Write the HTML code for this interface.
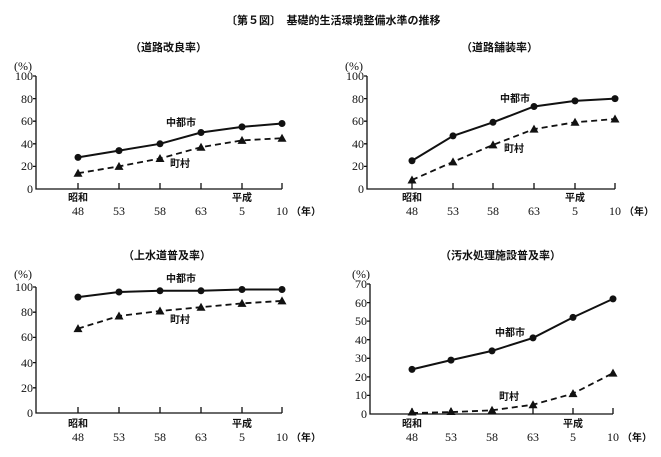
<!DOCTYPE html>
<html><head><meta charset="utf-8"><style>
html,body{margin:0;padding:0;background:#fff}
svg{display:block}
text{font-family:"Liberation Serif","Noto Serif CJK SC","Noto Sans CJK JP",serif;fill:#111}
.j{font-family:"Liberation Sans","Noto Sans CJK JP",sans-serif;font-weight:bold}
.n{font-size:12px}
</style></head><body>
<svg width="661" height="457" viewBox="0 0 661 457" xmlns="http://www.w3.org/2000/svg">
<defs>
<path id="tri" d="M0,-4.5 L4.5,3.5 L-4.5,3.5Z" fill="#111"/>
</defs>
<text x="226" y="24" class="j" font-size="11">〔第５図〕　基礎的生活環境整備水準の推移</text>

<!-- Chart A -->
<g>
<text x="130" y="51" class="j" font-size="11">（道路改良率）</text>
<text x="14" y="70" class="n">(%)</text>
<g class="n" text-anchor="end">
<text x="33" y="193">0</text><text x="33" y="170">20</text><text x="33" y="148">40</text><text x="33" y="125">60</text><text x="33" y="103">80</text><text x="33" y="80">100</text>
</g>
<g stroke="#111" stroke-width="1.3" fill="none">
<path d="M36,76V189H282"/>
<path d="M33,76H36M33,98.6H36M33,121.2H36M33,143.8H36M33,166.4H36"/>
<path d="M78,183V189M119,183V189M160,183V189M201,183V189M242,183V189M282,183V189"/>
<polyline stroke-width="2" points="78,157.4 119,150.6 160,143.8 201,132.5 242,126.9 282,123.5"/>
<polyline stroke-width="1.8" stroke-dasharray="6,4" points="78,173.2 119,166.4 160,158.5 201,147.2 242,140.4 282,138.2"/>
</g>
<g fill="#111"><circle cx="78" cy="157.4" r="3.5"/><circle cx="119" cy="150.6" r="3.5"/><circle cx="160" cy="143.8" r="3.5"/><circle cx="201" cy="132.5" r="3.5"/><circle cx="242" cy="126.9" r="3.5"/><circle cx="282" cy="123.5" r="3.5"/></g>
<use href="#tri" x="78" y="173.2"/><use href="#tri" x="119" y="166.4"/><use href="#tri" x="160" y="158.5"/><use href="#tri" x="201" y="147.2"/><use href="#tri" x="242" y="140.4"/><use href="#tri" x="282" y="138.2"/>
<text x="166" y="126" class="j" font-size="10">中都市</text>
<text x="170" y="167" class="j" font-size="10">町村</text>
<g class="n" text-anchor="middle"><text x="78" y="201" class="j" font-size="10">昭和</text><text x="242" y="201" class="j" font-size="10">平成</text>
<text x="78" y="215">48</text><text x="119" y="215">53</text><text x="160" y="215">58</text><text x="201" y="215">63</text><text x="242" y="215">5</text><text x="282" y="215">10</text></g>
<text x="291" y="215" class="j" font-size="10">（年）</text>
</g>

<!-- Chart B -->
<g>
<text x="461" y="51" class="j" font-size="11">（道路舗装率）</text>
<text x="345" y="70" class="n">(%)</text>
<g class="n" text-anchor="end">
<text x="364" y="193">0</text><text x="364" y="170">20</text><text x="364" y="148">40</text><text x="364" y="125">60</text><text x="364" y="103">80</text><text x="364" y="80">100</text>
</g>
<g stroke="#111" stroke-width="1.3" fill="none">
<path d="M367,76V189H615"/>
<path d="M364,76H367M364,98.6H367M364,121.2H367M364,143.8H367M364,166.4H367"/>
<path d="M412,183V189M453,183V189M493,183V189M534,183V189M575,183V189M615,183V189"/>
<polyline stroke-width="2" points="412,160.75 453,135.9 493,122.3 534,106.5 575,100.9 615,98.6"/>
<polyline stroke-width="1.8" stroke-dasharray="6,4" points="412,180 453,161.9 493,144.9 534,129.1 575,122.3 615,119"/>
</g>
<g fill="#111"><circle cx="412" cy="160.75" r="3.5"/><circle cx="453" cy="135.9" r="3.5"/><circle cx="493" cy="122.3" r="3.5"/><circle cx="534" cy="106.5" r="3.5"/><circle cx="575" cy="100.9" r="3.5"/><circle cx="615" cy="98.6" r="3.5"/></g>
<use href="#tri" x="412" y="180"/><use href="#tri" x="453" y="161.9"/><use href="#tri" x="493" y="144.9"/><use href="#tri" x="534" y="129.1"/><use href="#tri" x="575" y="122.3"/><use href="#tri" x="615" y="119"/>
<text x="500" y="102" class="j" font-size="10">中都市</text>
<text x="504" y="152" class="j" font-size="10">町村</text>
<g class="n" text-anchor="middle"><text x="412" y="201" class="j" font-size="10">昭和</text><text x="575" y="201" class="j" font-size="10">平成</text>
<text x="412" y="215">48</text><text x="453" y="215">53</text><text x="493" y="215">58</text><text x="534" y="215">63</text><text x="575" y="215">5</text><text x="615" y="215">10</text></g>
<text x="624" y="215" class="j" font-size="10">（年）</text>
</g>

<!-- Chart C -->
<g>
<text x="123" y="259" class="j" font-size="11">（上水道普及率）</text>
<text x="14" y="278" class="n">(%)</text>
<g class="n" text-anchor="end">
<text x="33" y="417">0</text><text x="33" y="392">20</text><text x="33" y="367">40</text><text x="33" y="341">60</text><text x="33" y="316">80</text><text x="33" y="291">100</text>
</g>
<g stroke="#111" stroke-width="1.3" fill="none">
<path d="M36,287V413H282"/>
<path d="M33,287H36M33,312.2H36M33,337.4H36M33,362.6H36M33,387.8H36"/>
<path d="M78,407V413M119,407V413M160,407V413M201,407V413M242,407V413M282,407V413"/>
<polyline stroke-width="2" points="78,297.1 119,292 160,290.8 201,290.8 242,289.5 282,289.5"/>
<polyline stroke-width="1.8" stroke-dasharray="6,4" points="78,328.6 119,316 160,311 201,307.2 242,303.4 282,300.9"/>
</g>
<g fill="#111"><circle cx="78" cy="297.1" r="3.5"/><circle cx="119" cy="292" r="3.5"/><circle cx="160" cy="290.8" r="3.5"/><circle cx="201" cy="290.8" r="3.5"/><circle cx="242" cy="289.5" r="3.5"/><circle cx="282" cy="289.5" r="3.5"/></g>
<use href="#tri" x="78" y="328.6"/><use href="#tri" x="119" y="316"/><use href="#tri" x="160" y="311"/><use href="#tri" x="201" y="307.2"/><use href="#tri" x="242" y="303.4"/><use href="#tri" x="282" y="300.9"/>
<text x="166" y="282" class="j" font-size="10">中都市</text>
<text x="170" y="323" class="j" font-size="10">町村</text>
<g class="n" text-anchor="middle"><text x="78" y="427" class="j" font-size="10">昭和</text><text x="242" y="427" class="j" font-size="10">平成</text>
<text x="78" y="441">48</text><text x="119" y="441">53</text><text x="160" y="441">58</text><text x="201" y="441">63</text><text x="242" y="441">5</text><text x="282" y="441">10</text></g>
<text x="291" y="441" class="j" font-size="10">（年）</text>
</g>

<!-- Chart D -->
<g>
<text x="440" y="259" class="j" font-size="11">（汚水処理施設普及率）</text>
<text x="352" y="278" class="n">(%)</text>
<g class="n" text-anchor="end">
<text x="367" y="418">0</text><text x="367" y="399">10</text><text x="367" y="381">20</text><text x="367" y="362">30</text><text x="367" y="344">40</text><text x="367" y="325">50</text><text x="367" y="307">60</text><text x="367" y="288">70</text>
</g>
<g stroke="#111" stroke-width="1.3" fill="none">
<path d="M370,284V414H613"/>
<path d="M367,284H370M367,302.6H370M367,321.1H370M367,339.7H370M367,358.3H370M367,376.9H370M367,395.4H370"/>
<path d="M412,408V414M451,408V414M492,408V414M533,408V414M573,408V414M613,408V414"/>
<polyline stroke-width="2" points="412,369.4 451,360.1 492,350.9 533,337.9 573,317.4 613,298.9"/>
<polyline stroke-width="1.8" stroke-dasharray="6,4" points="412,413 451,412.1 492,410.3 533,404.7 573,393.6 613,373.1"/>
</g>
<g fill="#111"><circle cx="412" cy="369.4" r="3.5"/><circle cx="451" cy="360.1" r="3.5"/><circle cx="492" cy="350.9" r="3.5"/><circle cx="533" cy="337.9" r="3.5"/><circle cx="573" cy="317.4" r="3.5"/><circle cx="613" cy="298.9" r="3.5"/></g>
<use href="#tri" x="412" y="412"/><use href="#tri" x="451" y="411.5"/><use href="#tri" x="492" y="410.3"/><use href="#tri" x="533" y="404.7"/><use href="#tri" x="573" y="393.6"/><use href="#tri" x="613" y="373.1"/>
<text x="495" y="336" class="j" font-size="10">中都市</text>
<text x="499" y="400" class="j" font-size="10">町村</text>
<g class="n" text-anchor="middle"><text x="412" y="427" class="j" font-size="10">昭和</text><text x="573" y="427" class="j" font-size="10">平成</text>
<text x="412" y="441">48</text><text x="451" y="441">53</text><text x="492" y="441">58</text><text x="533" y="441">63</text><text x="573" y="441">5</text><text x="613" y="441">10</text></g>
<text x="622" y="441" class="j" font-size="10">（年）</text>
</g>
</svg>
</body></html>
